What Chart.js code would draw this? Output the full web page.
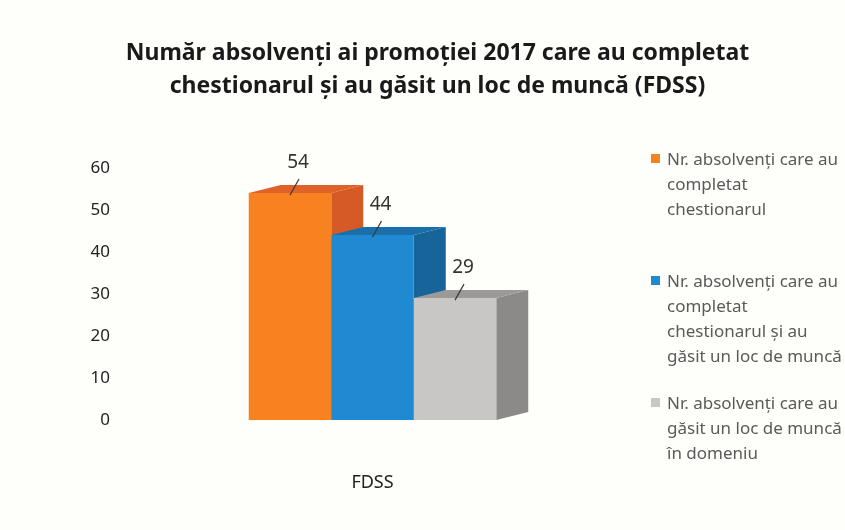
<!DOCTYPE html>
<html>
<head>
<meta charset="utf-8">
<script src="https://cdn.jsdelivr.net/npm/chart.js@4/dist/chart.umd.min.js"></script>
<style>
	html, body { margin: 0; padding: 0; background: #fefefb; overflow: hidden; }
	#wrap { position: relative; width: 845px; height: 530px; }
	#legend { position: absolute; left: 651px; top: 146px; width: 200px; font-family: "Noto Sans", sans-serif; font-size: 17px; color: #5a5a5a; }
	#legend .item { position: relative; height: 122px; padding-left: 16px; line-height: 25px; white-space: nowrap; }
	#legend .box { position: absolute; left: 0; top: 8px; width: 9px; height: 9px; }
</style>
</head>
<body>
<div id="wrap">
	<canvas id="chart-fdss" width="845" height="530"></canvas>
	<div id="legend"></div>
</div>
<script>
// Chart data
const CATEGORIES = ["FDSS"];
const SERIES_LINES = [
	["Nr. absolvenți care au", "completat", "chestionarul"],
	["Nr. absolvenți care au", "completat", "chestionarul și au", "găsit un loc de muncă"],
	["Nr. absolvenți care au", "găsit un loc de muncă", "în domeniu"],
];
const SERIES_VALUES = [[54], [44], [29]];
const Y_TICKS = [0, 10, 20, 30, 40, 50, 60];
const TITLE_LINES = [
	"Număr absolvenți ai promoției 2017 care au completat",
	"chestionarul și au găsit un loc de muncă (FDSS)",
];

// front / top / side colours for each bar
const COLORS = [
	{ front: "#f7821f", top: "#df6328", side: "#d55a26" },
	{ front: "#1f8ad2", top: "#1a6ea9", side: "#17649b" },
	{ front: "#c9c7c5", top: "#9c9a99", side: "#8c8a89" },
];

const DEPTH_X = 32;
const DEPTH_Y = -8;
const FONT = "'Noto Sans', sans-serif";

// Draws the top and side faces behind the fronts that Chart.js draws
const bar3d = {
	id: "bar3d",
	beforeDatasetsDraw(chart) {
		const ctx = chart.ctx;
		chart.data.datasets.forEach((ds, i) => {
			chart.getDatasetMeta(i).data.forEach((bar) => {
				const { x, y, base, width } = bar.getProps(["x", "y", "base", "width"], true);
				const l = x - width / 2;
				const r = x + width / 2;
				ctx.save();
				ctx.fillStyle = COLORS[i].top;
				ctx.beginPath();
				ctx.moveTo(l, y);
				ctx.lineTo(l + DEPTH_X, y + DEPTH_Y);
				ctx.lineTo(r + DEPTH_X, y + DEPTH_Y);
				ctx.lineTo(r, y);
				ctx.closePath();
				ctx.fill();
				ctx.fillStyle = COLORS[i].side;
				ctx.beginPath();
				ctx.moveTo(r, y);
				ctx.lineTo(r + DEPTH_X, y + DEPTH_Y);
				ctx.lineTo(r + DEPTH_X, base + DEPTH_Y);
				ctx.lineTo(r, base);
				ctx.closePath();
				ctx.fill();
				ctx.restore();
			});
		});
	},
	afterDatasetsDraw(chart) {
		const ctx = chart.ctx;
		chart.data.datasets.forEach((ds, i) => {
			chart.getDatasetMeta(i).data.forEach((bar, j) => {
				const { x, y } = bar.getProps(["x", "y"], true);
				ctx.save();
				ctx.strokeStyle = "#3a3a3a";
				ctx.lineWidth = 1.2;
				ctx.beginPath();
				ctx.moveTo(x, y + 2);
				ctx.lineTo(x + 9, y - 14);
				ctx.stroke();
				ctx.fillStyle = "#333";
				ctx.font = "19px " + FONT;
				ctx.textAlign = "center";
				ctx.textBaseline = "middle";
				ctx.fillText(ds.data[j], x + 8, y - 30);
				ctx.restore();
			});
		});
	},
};

const CHART_DATA = {
	labels: CATEGORIES,
	datasets: SERIES_LINES.map((lines, i) => ({
		label: lines.join(" "),
		data: SERIES_VALUES[i],
		backgroundColor: COLORS[i].front,
		borderWidth: 0,
		categoryPercentage: 0.5,
		barPercentage: 1,
	})),
};

const CHART_CONFIG = {
	type: "bar",
	data: CHART_DATA,
	plugins: [bar3d],
	options: {
		responsive: false,
		animation: false,
		layout: {
			padding: { left: 30, right: 0, top: 37, bottom: 40 },
		},
		scales: {
			x: {
				grid: { display: false },
				border: { display: false },
				ticks: { font: { family: FONT, size: 18 }, color: "#222", padding: 44 },
				afterFit: (scale) => {
					scale.height = 70;
				},
			},
			y: {
				min: Y_TICKS[0],
				max: Y_TICKS[Y_TICKS.length - 1],
				grid: { display: false },
				border: { display: false },
				afterBuildTicks: (scale) => {
					scale.ticks = Y_TICKS.map((v) => ({ value: v }));
				},
				ticks: { font: { family: FONT, size: 17 }, color: "#222", padding: 7 },
				afterFit: (scale) => {
					scale.width = 95;
				},
			},
			// empty axis that keeps room for the legend on the right
			yRight: {
				position: "right",
				grid: { display: false },
				border: { display: false },
				ticks: { display: false },
				afterFit: (scale) => {
					scale.width = 225;
				},
			},
		},
		plugins: {
			legend: { display: false },
			tooltip: { enabled: false },
			title: {
				display: true,
				text: TITLE_LINES,
				color: "#1a1a1a",
				font: { family: FONT, size: 23, weight: "bold", lineHeight: 1.43 },
				padding: { top: 0, bottom: 65 },
			},
		},
	},
};

const chart = new Chart(document.getElementById("chart-fdss"), CHART_CONFIG);

// Legend built from the datasets
const legendEl = document.getElementById("legend");
chart.data.datasets.forEach((ds, i) => {
	const item = document.createElement("div");
	item.className = "item";
	const box = document.createElement("span");
	box.className = "box";
	box.style.background = COLORS[i].front;
	item.appendChild(box);
	SERIES_LINES[i].forEach((line) => {
		const row = document.createElement("div");
		row.textContent = line;
		item.appendChild(row);
	});
	legendEl.appendChild(item);
});
</script>
</body>
</html>
